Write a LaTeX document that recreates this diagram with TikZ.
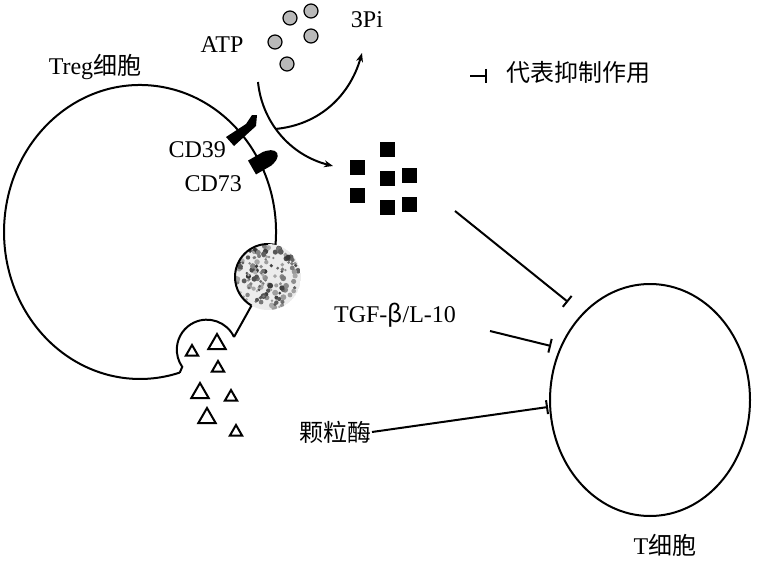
\documentclass[tikz,border=0pt]{standalone}
\usepackage{fontspec}
\setmainfont{Liberation Serif}
\newfontfamily\cjk{Noto Sans CJK SC}
\usetikzlibrary{arrows.meta,calc,shapes.geometric}
\begin{document}
\begin{tikzpicture}[x=1pt,y=1pt,line width=2pt,
  lab/.style={font=\fontsize{24}{28}\selectfont,inner sep=0pt},
  dot/.style={circle,fill=gray!55,draw=black,line width=1.2pt,minimum size=14pt,inner sep=0pt},
  sq/.style={fill=black,minimum size=15pt,inner sep=0pt},
  tri/.style={regular polygon,regular polygon sides=3,draw,line width=2pt,inner sep=0pt},
  inh/.style={-{Bar[width=14pt]}},
  arr/.style={-{Stealth[length=9pt,width=7pt]}}]
\useasboundingbox (0,0) rectangle (766,-578);
% Treg membrane
\draw (275.5,-244.8) arc[x radius=136,y radius=147,start angle=-5,end angle=287] coordinate (mb);
\draw (275.5,-244.8) -- (268,-244);
% textured vesicle
\begin{scope}
\clip (268,-277) circle (33);
\fill[gray!15] (268,-277) circle (33);
\pgfmathsetseed{7}
\foreach \i in {1,...,140}{
  \pgfmathsetmacro\a{rnd*360}\pgfmathsetmacro\r{sqrt(rnd)*32}\pgfmathsetmacro\g{30+rnd*50}
  \fill[black!\g] ($(268,-277)+(\a:\r)$) circle (1.2+rnd*1.8);
}
\end{scope}
\draw (268,-244) arc[radius=33,start angle=90,end angle=240] coordinate (v1);
\draw (v1) -- (234,-337);
\draw (234,-337) arc[radius=30,start angle=25,end angle=215] -- (mb);
\node[tri,minimum size=20pt] (t1) at (217,-344) {};
\node[tri,minimum size=14pt] (t2) at (192,-352) {};
\node[tri,minimum size=14pt] (t3) at (218,-368) {};
\node[tri,minimum size=20pt] (t4) at (200,-393) {};
\node[tri,minimum size=14pt] (t5) at (231,-397) {};
\node[tri,minimum size=20pt] (t6) at (207,-418) {};
\node[tri,minimum size=14pt] (t7) at (236,-432) {};
% CD39 / CD73
\fill (226,-137) -- (246,-124) -- (252,-115) -- (257,-115) -- (256,-126) -- (234,-146) -- cycle;
\fill[rotate around={30:(265,-160)}] (250,-168) rectangle (268,-152) (265,-152) arc[x radius=14,y radius=8,start angle=90,end angle=-90] -- cycle;
\node[lab,anchor=east] (cd39) at (227,-150) {CD39};
\node[lab,anchor=east] (cd73) at (243,-184) {CD73};
\node[lab] (treg) at (95,-67) {Treg{\cjk 细胞}};
\node[lab] (atp) at (222,-45) {ATP};
\node[lab] (pi) at (367,-20) {3Pi};
\foreach \p [count=\k] in {(290,-18),(311,-11),(275,-42),(311,-36),(287,-64)} \node[dot] (d\k) at \p {};
\foreach \p [count=\k] in {(357,-167),(387,-149),(387,-178),(409,-175),(357,-195),(387,-207),(409,-204)} \node[sq] (s\k) at \p {};
\coordinate (a1) at (258,-82);
\coordinate (a2) at (333,-166);
\coordinate (b1) at (275,-129);
\coordinate (b2) at (362,-53);
\draw[arr] (a1) .. controls (262,-122) and (290,-155) .. (a2);
\draw[arr] (b1) .. controls (320,-125) and (350,-95) .. (b2);
% legend
\coordinate (lg1) at (470,-76); \coordinate (lg2) at (487,-76);
\draw[inh,line width=1.8pt] (lg1) -- (lg2);
\node[lab,anchor=west] (leg) at (505,-72) {\cjk 代表抑制作用};
% T cell
\draw (650,-400) ellipse[x radius=100,y radius=116];
\node[lab] (tcell) at (665,-545) {T{\cjk 细胞}};
\node[lab] (tgf) at (395,-315) {TGF-{\cjk β}/L-10};
\node[lab] (gz) at (335,-432) {\cjk 颗粒酶};
\coordinate (e1) at (568,-302); \coordinate (e2) at (551,-346); \coordinate (e3) at (548,-407);
\coordinate (o1) at (455,-211); \coordinate (o2) at (490,-331);
\draw[inh] (o1) -- (e1);
\draw[inh] (o2) -- (e2);
\draw[inh] (gz.east) -- (e3);
\end{tikzpicture}
\end{document}
